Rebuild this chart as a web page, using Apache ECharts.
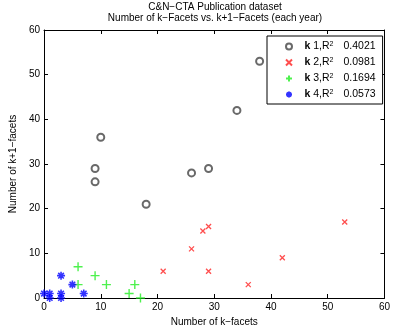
<!DOCTYPE html>
<html>
<head>
<meta charset="utf-8">
<script src="https://cdn.jsdelivr.net/npm/echarts@6/dist/echarts.min.js"></script>
<style>
  html, body { margin: 0; padding: 0; background: #fff; }
  #chart { width: 393px; height: 333px; }
</style>
</head>
<body>
<div id="chart"></div>
<script>
// k-facet counts per year (x) against k+1-facet counts (y)
const k1X = [10, 9, 9, 18, 26, 29, 34, 38];
const k1Y = [36, 29, 26, 21, 28, 29, 42, 53];
const k2X = [21, 26, 28, 29, 29, 36, 42, 53];
const k2Y = [6, 11, 15, 16, 6, 3, 9, 17];
const k3X = [6, 6, 9, 11, 15, 16, 17];
const k3Y = [7, 3, 5, 3, 1, 3, 0];
const k4X = [0, 1, 1, 3, 3, 3, 5, 7];
const k4Y = [1, 1, 0, 5, 1, 0, 3, 1];
const seriesK = ['1', '2', '3', '4'];
const seriesR2 = ['0.4021', '0.0981', '0.1694', '0.0573'];
const seriesNames = seriesK.map((k, i) => 'k ' + k + ',R2 ' + seriesR2[i]);
const axisTicks = [0, 10, 20, 30, 40, 50, 60];

const font = 'Liberation Sans, Arial, Helvetica, sans-serif';
const pairs = (xs, ys) => xs.map((x, i) => [x, ys[i]]);

const crossPath = 'path://M0,0L10,10M10,0L0,10';
const plusPath = 'path://M5,0L5,10M0,5L10,5';
const starPath = 'path://M5,0L5,10M0,5L10,5M1.5,1.5L8.5,8.5M8.5,1.5L1.5,8.5';

function axisBase(pos, showLabels) {
  return {
    type: 'value',
    position: pos,
    min: axisTicks[0],
    max: axisTicks[axisTicks.length - 1],
    interval: 10,
    splitLine: { show: false },
    axisLine: { show: true, onZero: false, lineStyle: { color: '#000', width: 1 } },
    axisTick: { show: true, inside: true, length: 4, lineStyle: { color: '#000' } },
    axisLabel: { show: showLabels, color: '#000', fontSize: 10, fontFamily: font, margin: 4 }
  };
}

const chart = echarts.init(document.getElementById('chart'), null, { renderer: 'canvas' });
chart.setOption({
  animation: false,
  backgroundColor: '#fff',
  title: {
    text: 'C&N\u2212CTA Publication dataset\nNumber of k\u2212Facets vs. k+1\u2212Facets (each year)',
    left: 215,
    textAlign: 'center',
    top: 1,
    padding: [0, 0, 0, 0],
    textStyle: { fontSize: 10, fontWeight: 'normal', color: '#000', fontFamily: font, lineHeight: 11.5 }
  },
  grid: { left: 40, right: 5, top: 30, bottom: 35 },
  xAxis: [
    Object.assign(axisBase('bottom', true), {
      name: 'Number of k\u2212facets', nameLocation: 'middle', nameGap: 16,
      nameTextStyle: { fontSize: 10, color: '#000', fontFamily: font }
    }),
    axisBase('top', false)
  ],
  yAxis: [
    Object.assign(axisBase('left', true), {
      name: 'Number of k+1\u2212facets', nameLocation: 'middle', nameGap: 21,
      nameTextStyle: { fontSize: 10, color: '#000', fontFamily: font }
    }),
    axisBase('right', false)
  ],
  legend: {
    orient: 'vertical',
    left: 267,
    top: 36,
    itemWidth: 21,
    itemHeight: 6,
    itemGap: 4,
    padding: [5, 7, 3, 18],
    borderColor: '#000',
    borderWidth: 1,
    backgroundColor: '#fff',
    formatter: function (name) {
      const i = seriesNames.indexOf(name);
      return '{k|k} ' + seriesK[i] + ',R{sup|2}{num|' + seriesR2[i] + '}';
    },
    textStyle: {
      fontSize: 10.5, color: '#000', fontFamily: font,
      rich: {
        k: { fontSize: 10.5, fontWeight: 'bold', fontFamily: font, color: '#000' },
        sup: { fontSize: 7, fontFamily: font, color: '#000', verticalAlign: 'top', lineHeight: 7, padding: [0, 0, 5, 0] },
        num: { fontSize: 10.5, fontFamily: font, color: '#000', padding: [0, 0, 0, 10] }
      }
    },
    data: seriesNames
  },
  series: [
    {
      name: seriesNames[0], type: 'scatter', clip: false,
      symbol: 'emptyCircle', symbolSize: 7,
      itemStyle: { color: '#444', borderColor: '#444', borderWidth: 1.5 },
      data: pairs(k1X, k1Y)
    },
    {
      name: seriesNames[1], type: 'scatter', clip: false,
      symbol: crossPath, symbolSize: 5,
      itemStyle: { color: 'rgba(0,0,0,0)', borderColor: '#ff2020', borderWidth: 1.3 },
      data: pairs(k2X, k2Y)
    },
    {
      name: seriesNames[2], type: 'scatter', clip: false,
      symbol: plusPath, symbolSize: 9,
      itemStyle: { color: 'rgba(0,0,0,0)', borderColor: '#22ee22', borderWidth: 1.4 },
      data: pairs(k3X, k3Y)
    },
    {
      name: seriesNames[3], type: 'scatter', clip: false,
      symbol: starPath, symbolSize: 8,
      itemStyle: { color: 'rgba(0,0,0,0)', borderColor: '#0000ff', borderWidth: 1.6 },
      data: pairs(k4X, k4Y)
    }
  ]
});
</script>
</body>
</html>
